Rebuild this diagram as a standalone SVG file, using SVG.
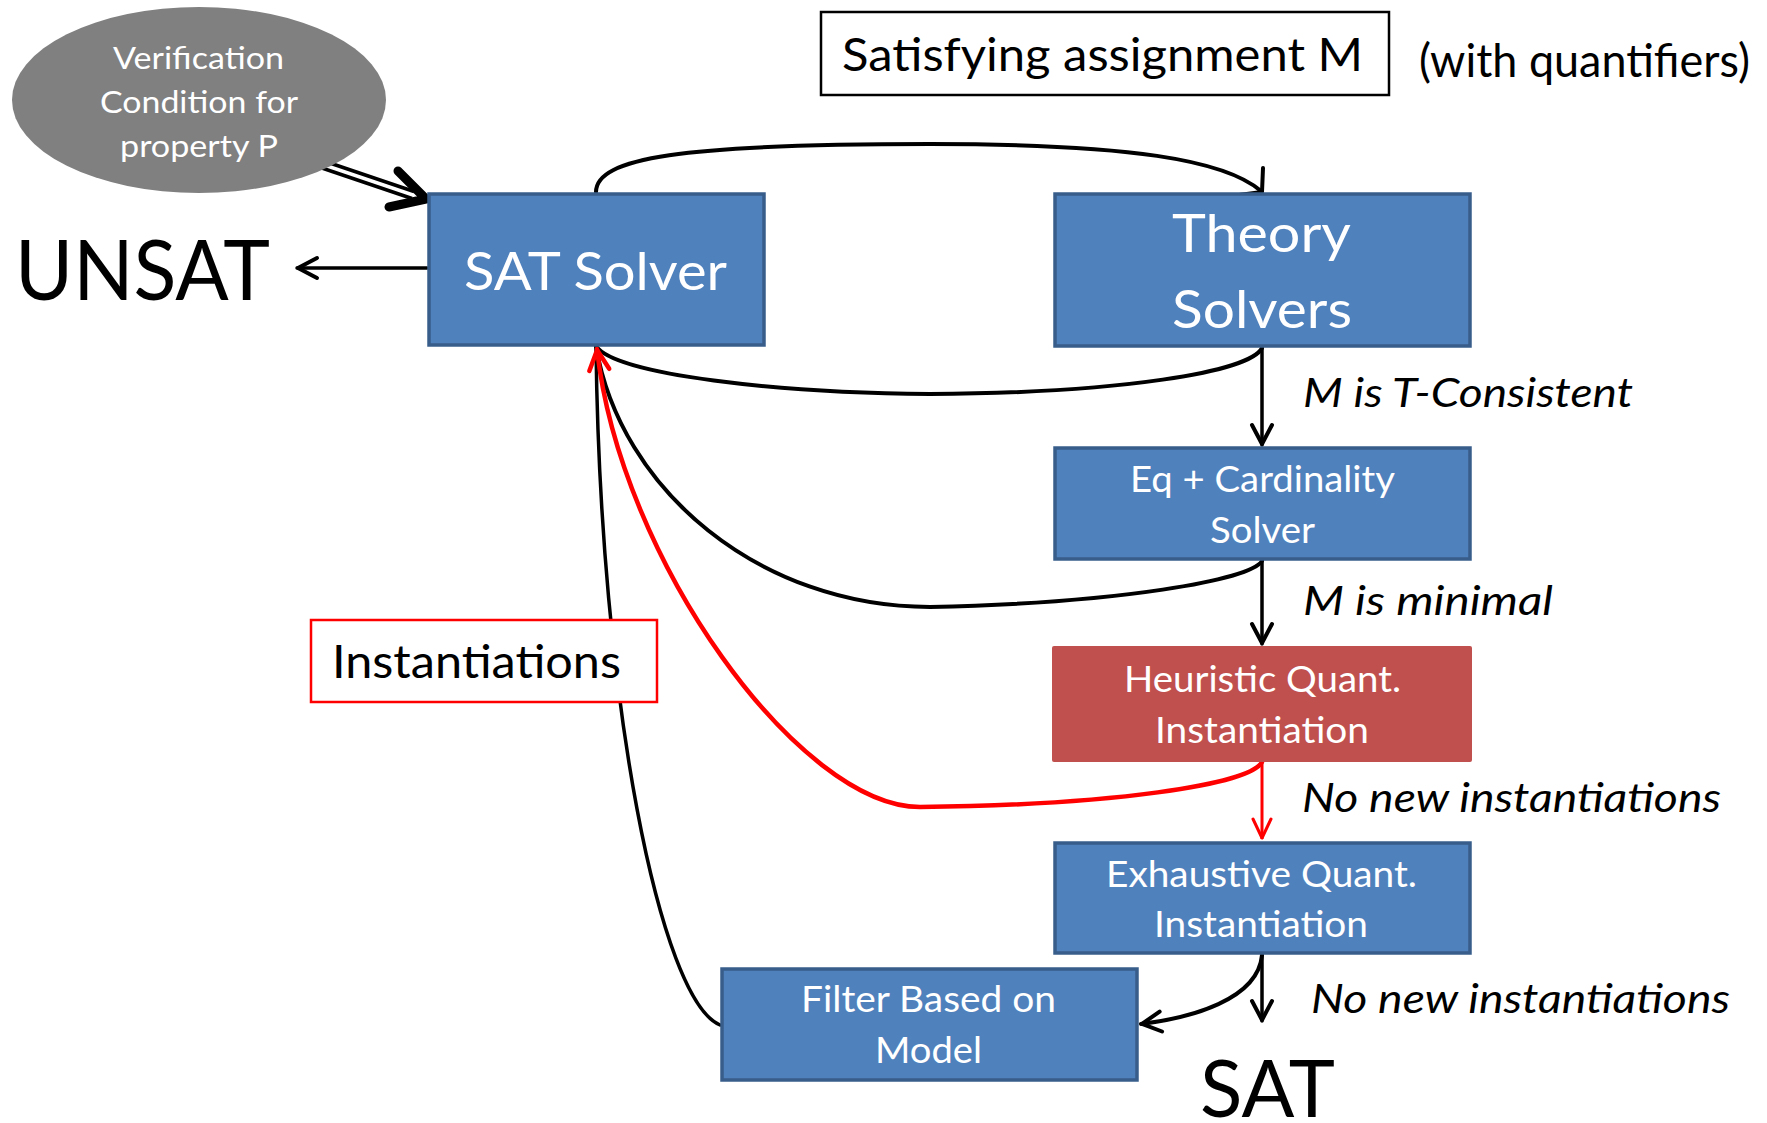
<svg xmlns="http://www.w3.org/2000/svg" width="1767" height="1123" viewBox="0 0 1767 1123">
  <style>
    text { font-family: Lato, "Liberation Sans", sans-serif; }
    .w { fill: #ffffff; }
    .k { fill: #000000; }
    .it { font-style: italic; }
    .blue { fill: #4F81BD; stroke: #385D8A; stroke-width: 3.5; }
    .red { fill: #C0504D; }
    .line { fill: none; stroke: #000000; stroke-width: 4; stroke-linecap: round; }
    .thin { fill: none; stroke: #000000; stroke-width: 3.5; stroke-linecap: round; }
    .rline { fill: none; stroke: #FF0000; stroke-width: 4.5; stroke-linecap: round; }
  </style>
  <defs>
    <marker id="head" markerUnits="userSpaceOnUse" viewBox="-26 -16 32 32" markerWidth="32" markerHeight="32" refX="1" refY="0" orient="auto">
      <path d="M-19,-10 L0,0 L-19,10" fill="none" stroke="#000" stroke-width="4" stroke-linecap="round" stroke-linejoin="round"/>
    </marker>
    <marker id="rhead" markerUnits="userSpaceOnUse" viewBox="-26 -16 32 32" markerWidth="32" markerHeight="32" refX="1" refY="0" orient="auto">
      <path d="M-20,-10 L0,0 L-20,10" fill="none" stroke="#FF0000" stroke-width="4.5" stroke-linecap="round" stroke-linejoin="round"/>
    </marker>
    <marker id="rhead-sm" markerUnits="userSpaceOnUse" viewBox="-26 -16 32 32" markerWidth="32" markerHeight="32" refX="1" refY="0" orient="auto">
      <path d="M-19,-9 L0,0 L-19,9" fill="none" stroke="#FF0000" stroke-width="3" stroke-linecap="round" stroke-linejoin="round"/>
    </marker>
  </defs>

  <rect width="1767" height="1123" fill="#ffffff"/>

  <!-- connectors -->
  <g id="connectors">
    <!-- verification condition into SAT solver (double-line arrow) -->
    <g id="vc-to-sat">
      <line x1="318" y1="159" x2="414" y2="191.5" stroke="#000" stroke-width="3.5"/>
      <line x1="316" y1="166" x2="412" y2="198.5" stroke="#000" stroke-width="3.5"/>
      <path d="M398,171 L426,199 L389,207" fill="none" stroke="#000" stroke-width="9" stroke-linecap="round" stroke-linejoin="round"/>
    </g>
    <!-- SAT solver to UNSAT -->
    <path class="thin" d="M427,268 L297,268" marker-end="url(#head)"/>
    <!-- SAT solver to theory solvers (top arc) -->
    <path class="line" d="M596,192 C596,158 680,144 930,144 C1130,144 1225,160 1261,191"/>
    <path d="M1263,168 L1262,192 L1239,195" fill="none" stroke="#000" stroke-width="4" stroke-linecap="round" stroke-linejoin="round"/>
    <!-- theory solvers back to SAT solver -->
    <path class="line" d="M1262,348 C1250,372 1120,393 930,394 C780,393 615,375 596,346"/>
    <!-- eq + cardinality back to SAT solver -->
    <path class="line" d="M1262,561 C1250,580 1120,603 930,607 C760,607 620,490 596,346"/>
    <!-- filter back to SAT solver -->
    <path class="thin" d="M720,1025 C660,1000 600,700 596,346"/>
    <!-- heuristic instantiation back to SAT solver -->
    <path class="rline" d="M1262,762 C1250,785 1110,805 920,807 C800,807 620,560 597,349" marker-end="url(#rhead)"/>
    <!-- vertical chain -->
    <path class="thin" d="M1262,348 L1262,445" marker-end="url(#head)"/>
    <path class="thin" d="M1262,561 L1262,644" marker-end="url(#head)"/>
    <path fill="none" stroke="#FF0000" stroke-width="3" d="M1262,762 L1262,839" marker-end="url(#rhead-sm)"/>
    <path class="thin" d="M1262,955 L1262,1021" marker-end="url(#head)"/>
    <!-- exhaustive instantiation to filter -->
    <path class="line" d="M1262,955 C1258,1000 1190,1018 1141,1024" marker-end="url(#head)"/>
  </g>

  <!-- nodes -->
  <g id="vc">
    <ellipse cx="199" cy="100" rx="187" ry="93" fill="#808080"/>
    <text class="w" x="113" y="69" font-size="31" textLength="171" lengthAdjust="spacingAndGlyphs">Verification</text>
    <text class="w" x="100" y="113" font-size="31" textLength="198" lengthAdjust="spacingAndGlyphs">Condition for</text>
    <text class="w" x="120" y="157" font-size="31" textLength="158" lengthAdjust="spacingAndGlyphs">property P</text>
  </g>

  <g id="sat-solver">
    <rect class="blue" x="429" y="194" width="335" height="151"/>
    <text class="w" x="464" y="290" font-size="53" textLength="263" lengthAdjust="spacingAndGlyphs">SAT Solver</text>
  </g>

  <g id="unsat">
    <text class="k" x="15" y="300" font-size="84" textLength="255" lengthAdjust="spacingAndGlyphs">UNSAT</text>
  </g>

  <g id="assignment">
    <rect x="821" y="12" width="568" height="83" fill="#ffffff" stroke="#000" stroke-width="2.5"/>
    <text class="k" x="842" y="71" font-size="47" textLength="521" lengthAdjust="spacingAndGlyphs">Satisfying assignment M</text>
  </g>

  <g id="quantifiers-note">
    <text class="k" x="1419" y="77" font-size="47" textLength="331" lengthAdjust="spacingAndGlyphs">(with quantifiers)</text>
  </g>

  <g id="theory-solvers">
    <rect class="blue" x="1055" y="194" width="415" height="152"/>
    <text class="w" x="1172" y="252" font-size="53" textLength="179" lengthAdjust="spacingAndGlyphs">Theory</text>
    <text class="w" x="1172" y="328" font-size="53" textLength="180" lengthAdjust="spacingAndGlyphs">Solvers</text>
  </g>

  <g id="label-consistent">
    <text class="k it" x="1303" y="407" font-size="40" textLength="330" lengthAdjust="spacingAndGlyphs">M is T-Consistent</text>
  </g>

  <g id="eq-cardinality">
    <rect class="blue" x="1055" y="448" width="415" height="111"/>
    <text class="w" x="1130" y="492" font-size="37" textLength="265" lengthAdjust="spacingAndGlyphs">Eq + Cardinality</text>
    <text class="w" x="1210" y="543" font-size="37" textLength="105" lengthAdjust="spacingAndGlyphs">Solver</text>
  </g>

  <g id="label-minimal">
    <text class="k it" x="1303" y="615" font-size="40" textLength="250" lengthAdjust="spacingAndGlyphs">M is minimal</text>
  </g>

  <g id="heuristic">
    <rect class="red" x="1052" y="646" width="420" height="116" rx="2"/>
    <text class="w" x="1124" y="692" font-size="36" textLength="277" lengthAdjust="spacingAndGlyphs">Heuristic Quant.</text>
    <text class="w" x="1155" y="743" font-size="36" textLength="214" lengthAdjust="spacingAndGlyphs">Instantiation</text>
  </g>

  <g id="label-no-new-1">
    <text class="k it" x="1302" y="812" font-size="40" textLength="419" lengthAdjust="spacingAndGlyphs">No new instantiations</text>
  </g>

  <g id="exhaustive">
    <rect class="blue" x="1055" y="843" width="415" height="110"/>
    <text class="w" x="1106" y="887" font-size="36" textLength="311" lengthAdjust="spacingAndGlyphs">Exhaustive Quant.</text>
    <text class="w" x="1154" y="937" font-size="36" textLength="214" lengthAdjust="spacingAndGlyphs">Instantiation</text>
  </g>

  <g id="filter">
    <rect class="blue" x="722" y="969" width="415" height="111"/>
    <text class="w" x="801" y="1012" font-size="36" textLength="255" lengthAdjust="spacingAndGlyphs">Filter Based on</text>
    <text class="w" x="875" y="1063" font-size="36" textLength="107" lengthAdjust="spacingAndGlyphs">Model</text>
  </g>

  <g id="label-no-new-2">
    <text class="k it" x="1311" y="1013" font-size="40" textLength="419" lengthAdjust="spacingAndGlyphs">No new instantiations</text>
  </g>

  <g id="sat">
    <text class="k" x="1200" y="1117" font-size="80" textLength="135" lengthAdjust="spacingAndGlyphs">SAT</text>
  </g>

  <g id="instantiations">
    <rect x="311" y="620" width="346" height="82" fill="#ffffff" stroke="#FF0000" stroke-width="2.5"/>
    <text class="k" x="332" y="678" font-size="46" textLength="289" lengthAdjust="spacingAndGlyphs">Instantiations</text>
  </g>
</svg>
